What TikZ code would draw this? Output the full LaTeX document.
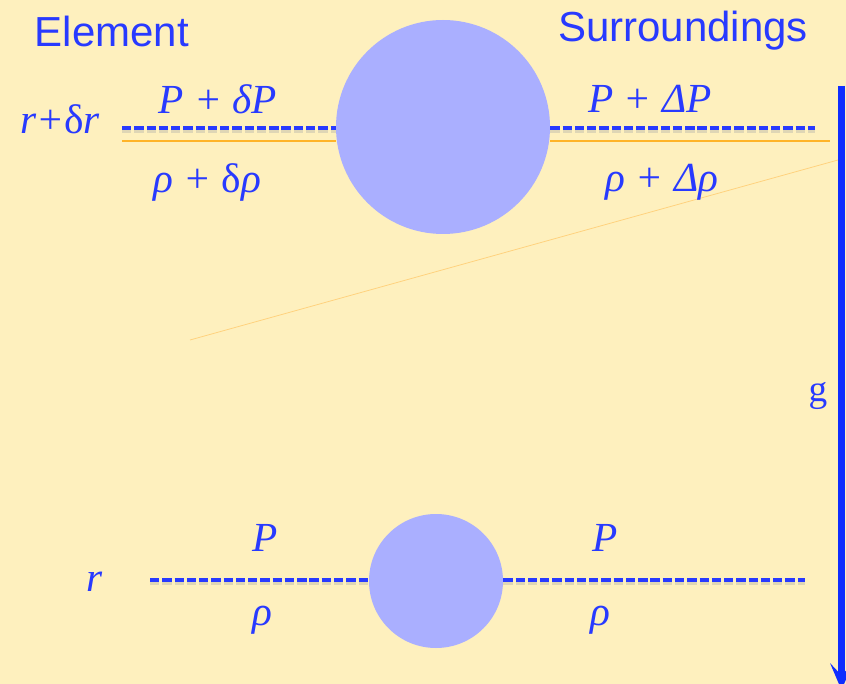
\documentclass[tikz,border=0pt]{standalone}
\usepackage{fontspec}
\setmainfont{Liberation Serif}
\newfontfamily\arialfont{Liberation Sans}
\usetikzlibrary{arrows.meta}
\definecolor{bg}{RGB}{254,240,190}
\definecolor{txtblue}{RGB}{40,58,255}
\definecolor{ballblue}{RGB}{170,175,255}
\definecolor{lineorange}{RGB}{255,180,40}
\definecolor{arrowblue}{RGB}{15,45,255}
\newcommand{\upd}{{\upshape δ}}
\tikzset{
  ball/.style={circle, fill=ballblue, draw=none, inner sep=0pt},
  mtxt/.style={text=txtblue, font=\fontsize{31}{36}\selectfont\itshape, inner sep=0pt},
  htxt/.style={text=txtblue, font=\arialfont\fontsize{31.5}{36}\selectfont, inner sep=0pt},
  dashline/.style={draw=txtblue, line width=2.6pt, dash pattern=on 7pt off 2.2pt},
  dashshadow/.style={draw=black!35, line width=3pt, dash pattern=on 7pt off 2.2pt, opacity=0.35},
  orangeline/.style={draw=lineorange, line width=1.4pt},
  thinorange/.style={draw=lineorange!60, line width=0.6pt},
}
\begin{document}
\begin{tikzpicture}[x=0.75pt, y=-0.75pt]
\fill[bg] (0,0) rectangle (846,684);
\useasboundingbox (0,0) rectangle (846,684);

% balls
\node[ball, minimum size=160.5pt] (big) at (443,127) {};
\node[ball, minimum size=100.5pt] (small) at (436,581) {};

% coordinates
\coordinate (tl) at (122,128);
\coordinate (tr) at (815,128);
\coordinate (otl) at (122,141);
\coordinate (otr) at (830,141);
\coordinate (bl) at (150,580);
\coordinate (br) at (805,580);
\coordinate (thinA) at (190,340);
\coordinate (thinB) at (838,160);
\coordinate (gtop) at (841.5,86);
\coordinate (gbot) at (841.5,690);

% thin orange diagonal
\draw[thinorange] (thinA) -- (thinB);

% orange lines
\draw[orangeline] (otl) -- (otl -| big.west);
\draw[orangeline] (otl -| big.east) -- (otr);

% dashed lines with shadow
\draw[dashshadow] ([yshift=-2pt]tl) -- ([yshift=-2pt]tl -| big.west);
\draw[dashshadow] ([yshift=-2pt]tl -| big.east) -- ([yshift=-2pt]tr);
\draw[dashshadow] ([yshift=-2pt]bl) -- ([yshift=-2pt]bl -| small.west);
\draw[dashshadow] ([yshift=-2pt]bl -| small.east) -- ([yshift=-2pt]br);
\draw[dashline] (tl) -- (tl -| big.west);
\draw[dashline] (tl -| big.east) -- (tr);
\draw[dashline] (bl) -- (bl -| small.west);
\draw[dashline] (bl -| small.east) -- (br);

% gravity arrow
\draw[draw=arrowblue, line width=5pt, -{Stealth[length=20pt, width=17pt, inset=9pt]}] (gtop) -- (gbot);

% texts
\node[htxt] (elem) at (112,31) {Element};
\node[htxt] (surr) at (683,31) {Surroundings};
\node[mtxt] (rdr) at (60,119) {r+\upd r};
\node[mtxt] (pdp) at (218,99) {P + δP};
\node[mtxt] (rhodr) at (207,182) {ρ + \upd ρ};
\node[mtxt] (pDp) at (650,99) {P + ΔP};
\node[mtxt] (rhoDr) at (662,182) {ρ + Δρ};
\node[mtxt] (r) at (95,582) {r};
\node[mtxt] (pl) at (265,538) {P};
\node[mtxt] (rl) at (262,620) {ρ};
\node[mtxt] (pr) at (605,538) {P};
\node[mtxt] (rr) at (600,620) {ρ};
\node[text=txtblue, font=\fontsize{28}{32}\selectfont, inner sep=0pt] (g) at (818,396) {g};
\end{tikzpicture}
\end{document}
